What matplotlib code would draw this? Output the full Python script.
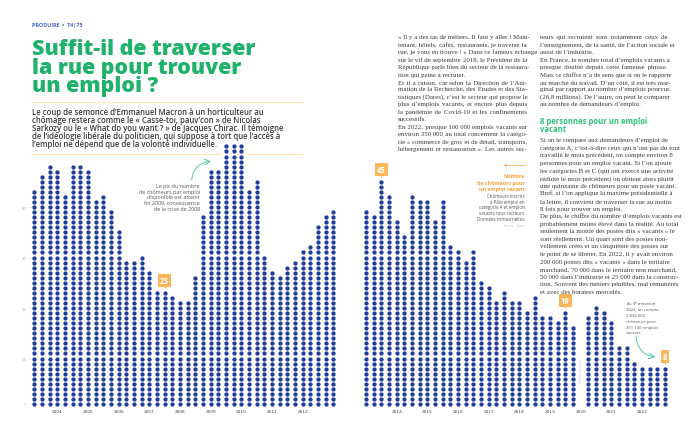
import numpy as np
import matplotlib
matplotlib.use("Agg")
from matplotlib import pyplot as plt

W, H = 700, 439

# chômeurs de catégorie A par emploi vacant, un point = 1 chômeur, données trimestrielles
left_values = [43, 46, 48, 47, 42, 48, 48, 47, 41, 42, 39, 35, 29, 29, 30, 27,
               23, 23, 22, 21, 21, 26, 38, 47, 47, 52, 52, 52, 43, 45, 30, 27,
               26, 28, 29, 31, 32, 36, 38, 39]
right_values = [39, 38, 45, 42, 37, 34, 42, 41, 41, 37, 41, 32, 31, 29, 31, 25,
                24, 21, 23, 21, 21, 19, 22, 18, 18, 17, 19, 16, None, 18, 20, 19,
                17, 12, 12, 9, 8, 8, 8, 8]
left_years = [str(y) for y in range(2004, 2013)]
left_year_cols = [3 + 4 * i for i in range(9)]
right_years = [str(y) for y in range(2014, 2023)]
right_year_cols = [4 + 4 * i for i in range(9)]
y_ticks = [1, 10, 20, 30, 40]
left_callout_cols = [17]
right_callout_cols = [2, 26, 39]

BLUE = '#1f3d9c'
GREEN = '#1fb26b'
ORANGE = '#f8b55a'
ORANGE_TXT = '#f5a53a'
RULE = '#fde2b5'
ARROW = '#4bcf9f'
SANS = 'Open Sans'
SERIF = ['Liberation Serif', 'DejaVu Serif']

title_lines = ["Suffit-il de traverser", "la rue pour trouver", "un emploi ?"]
intro_lines = [
    "Le coup de semonce d’Emmanuel Macron à un horticulteur au",
    "chômage restera comme le « Casse-toi, pauv’con » de Nicolas",
    "Sarkozy ou le « What do you want ? » de Jacques Chirac. Il témoigne",
    "de l’idéologie libérale du politicien, qui suppose à tort que l’accès à",
    "l’emploi ne dépend que de la volonté individuelle.",
]
peak_note = ["Le pic du nombre", "de chômeurs par emploi", "disponible est atteint",
             "fin 2009, conséquence", "de la crise de 2008"]
legend_title = ["Nombre", "de chômeurs pour", "un emploi vacant"]
legend_text = ["Chômeurs inscrits", "à Pôle emploi en", "catégorie A et emplois",
               "vacants tous secteurs.", "Données trimestrielles."]
last_note = [r"Au 4$^{\mathregular{e}}$ trimestre", "2022, on compte", "2\u00a0834\u00a0000",
             "chômeurs pour", "351\u00a0100 emplois", "vacants"]

# (texte, fin de paragraphe)
col1 = [
    ("«\u00a0Il y a des tas de métiers. Il faut y aller\u00a0! Main-", False),
    ("tenant, hôtels, cafés, restaurants, je traverse la", False),
    ("rue, je vous en trouve\u00a0!\u00a0» Dans ce fameux échange", False),
    ("sur le vif de septembre 2018, le Président de la", False),
    ("République parle bien du secteur de la restaura-", False),
    ("tion qui peine à recruter.", True),
    ("Et il a raison, car selon la Direction de l’Ani-", False),
    ("mation de la Recherche, des Études et des Sta-", False),
    ("tistiques (Dares), c’est le secteur qui propose le", False),
    ("plus d’emplois vacants, et encore plus depuis", False),
    ("la pandémie de Covid-19 et les confinements", False),
    ("successifs.", True),
    ("En 2022, presque 100\u00a0000 emplois vacants sur", False),
    ("environ 350\u00a0000 au total concernent la catégo-", False),
    ("rie «\u00a0commerce de gros et de détail, transports,", False),
    ("hébergement et restauration\u00a0». Les autres sec-", False),
]
col2_top = [
    ("teurs qui recrutent sont notamment ceux de", False),
    ("l’enseignement, de la santé, de l’action sociale et", False),
    ("aussi de l’industrie.", True),
    ("En France, le nombre total d’emplois vacants a", False),
    ("presque doublé depuis cette fameuse phrase.", False),
    ("Mais ce chiffre n’a de sens que si on le rapporte", False),
    ("au marché du travail. D’un côté, il est très mar-", False),
    ("ginal par rapport au nombre d’emplois pourvus", False),
    ("(26,8 millions). De l’autre, on peut le comparer", False),
    ("au nombre de demandeurs d’emploi.", True),
]
heading = ["8 personnes pour un emploi", "vacant"]
col2_bottom = [
    ("Si on le compare aux demandeurs d’emploi de", False),
    ("catégorie A, c’est-à-dire ceux qui n’ont pas du tout", False),
    ("travaillé le mois précédent, on compte environ 8", False),
    ("personnes pour un emploi vacant. Si l’on ajoute", False),
    ("les catégories B et C (qui ont exercé une activité", False),
    ("réduite le mois précédent) on obtient alors plutôt", False),
    ("une quinzaine de chômeurs pour un poste vacant.", False),
    ("Bref, si l’on applique la maxime présidentielle à", False),
    ("la lettre, il convient de traverser la rue au moins", False),
    ("8 fois pour trouver un emploi.", True),
    ("De plus, le chiffre du nombre d’emplois vacants est", False),
    ("probablement moins élevé dans la réalité. Au total", False),
    ("seulement la moitié des postes dits «\u00a0vacants\u00a0» le", False),
    ("sont réellement. Un quart sont des postes nou-", False),
    ("vellement créés et un cinquième des postes sur", False),
    ("le point de se libérer. En 2022, il y avait environ", False),
    ("200\u00a0000 postes dits «\u00a0vacants\u00a0» dans le tertiaire", False),
    ("marchand, 70\u00a0000 dans le tertiaire non marchand,", False),
    ("50\u00a0000 dans l’industrie et 25\u00a0000 dans la construc-", False),
    ("tion. Souvent des métiers pénibles, mal rémunérés", False),
    ("et avec des horaires morcelés.", True),
]


def px_axes(x0, x1, ytop, ybot):
    return fig.add_axes([x0 / W, 1 - ybot / H, (x1 - x0) / W, (ybot - ytop) / H])


def dot_columns(ax, values, callouts, year_cols, years):
    xs, ys = [], []
    for k, v in enumerate(values):
        if v is None:
            continue
        xs += [k] * v
        ys += list(range(1, v + 1))
    ax.scatter(xs, ys, s=9.5, color=BLUE, linewidths=0, zorder=2)
    ax.set_xlim(-0.5, len(values) - 0.5)
    ax.set_ylim(0.5, 53)
    for sp in ax.spines.values():
        sp.set_visible(False)
    ax.patch.set_alpha(0)
    ax.set_xticks(year_cols, years)
    ax.tick_params(axis='x', length=0, pad=1.8, labelsize=3.1, labelcolor='#444444')
    for k in callouts:
        v = values[k]
        ax.text(k, v + 2.45, str(v), ha='center', va='center', color='white',
                fontsize=5.6, fontweight='bold', family=SANS, clip_on=False, zorder=4,
                bbox=dict(boxstyle='square,pad=0.28', fc=ORANGE, ec='none'))
        ax.scatter([k], [v + 1.15], marker='v', s=5, color=ORANGE, linewidths=0,
                   zorder=4, clip_on=False)


fig = plt.figure(figsize=(W / 100, H / 100), dpi=100)
fig.patch.set_facecolor('white')

axl = px_axes(30.5, 337.2, 142.4, 407.5)
dot_columns(axl, left_values, left_callout_cols, left_year_cols, left_years)
axl.set_yticks(y_ticks, [str(t) for t in y_ticks])
axl.tick_params(axis='y', length=2, width=0.4, color='#d0d0d0', pad=1,
                labelsize=2.8, labelcolor='#b0b0b0')

axr = px_axes(362.2, 668.8, 142.4, 407.5)
dot_columns(axr, right_values, right_callout_cols, right_year_cols, right_years)
axr.set_yticks([])
axr.text(right_values.index(None), 7.7, 'Pas de données', rotation=90, ha='center',
         va='center', fontsize=2.4, color='#c4c4c4', family=SANS)

# calque texte en coordonnées pixels
tx = fig.add_axes([0, 0, 1, 1])
tx.set_xlim(0, W)
tx.set_ylim(H, 0)
tx.axis('off')

renderer = fig.canvas.get_renderer()


def width_px(s, size, **kw):
    t = tx.text(0, 0, s, fontsize=size, **kw)
    w = t.get_window_extent(renderer).width
    t.remove()
    return w


def fit(s, target, **kw):
    return 10 * target / width_px(s, 10, **kw)


def lines_at(lines, x, y0, step, size, **kw):
    for i, line in enumerate(lines):
        tx.text(x, y0 + i * step, line, fontsize=size, va='baseline', **kw)


def justify(lines, x0, x1, y0, step, size, **kw):
    # une ligne = un seul texte : on élargit les espaces avec des espaces fines
    hair = width_px('a' + '\u200a' * 10 + 'b', size, **kw) - width_px('ab', size, **kw)
    hair /= 10
    for i, (line, last) in enumerate(lines):
        words = line.split(' ')
        if not last and len(words) > 1:
            extra = (x1 - x0) - width_px(line, size, **kw)
            n_hair = max(0, int(round(extra / hair)))
            gaps = len(words) - 1
            out = words[0]
            done = 0
            for g in range(gaps):
                target = int(round(n_hair * (g + 1) / gaps))
                out += ' ' + '\u200a' * (target - done) + words[g + 1]
                done = target
            line = out
        tx.text(x0, y0 + i * step, line, fontsize=size, va='baseline', **kw)


# en-tête et titre
head_kw = dict(family=SANS, fontweight='bold')
tx.text(32, 27.3, "PRODUIRE  •  74|75", fontsize=fit("PRODUIRE  •  74|75", 50, **head_kw),
        color='#4a62c6', va='baseline', **head_kw)
title_kw = dict(family=SANS, fontweight=800)
lines_at(title_lines, 31.5, 55, 18.6, fit(title_lines[0], 224, **title_kw), color=GREEN, **title_kw)
tx.plot([32, 302], [103, 103], color=RULE, lw=0.8)

intro_kw = dict(family=SANS, fontweight=600)
lines_at(intro_lines, 32, 115.3, 7.95, fit(intro_lines[2], 251, **intro_kw),
         color='#3a3a3a', **intro_kw)
tx.plot([32, 220], [155, 155], color=RULE, lw=0.8)
tx.plot([247, 302], [155, 155], color=RULE, lw=0.8)

# note sur le pic
lines_at(peak_note, 200, 188, 5.65, fit(peak_note[1], 61, family=SANS), family=SANS,
         color='#555555', ha='right')
tx.annotate('', xy=(211, 162.3), xytext=(191.7, 181),
            arrowprops=dict(arrowstyle='->', color=ARROW, lw=0.7,
                            connectionstyle='arc3,rad=-0.4', shrinkA=0, shrinkB=0))

# légende
lines_at(legend_title, 525, 178, 6.6, fit(legend_title[1], 48, **head_kw),
         color=ORANGE_TXT, ha='right', **head_kw)
tx.annotate('', xy=(503.5, 166.5), xytext=(525, 166.5),
            arrowprops=dict(arrowstyle='->', color=ORANGE_TXT, lw=0.5,
                            shrinkA=0, shrinkB=0, mutation_scale=4))
gsize = fit(legend_text[2], 47, family=SANS)
lines_at(legend_text, 525, 197.8, 5.8, gsize, family=SANS, color='#555555', ha='right')
tx.text(525, 227, "Source : Dares", fontsize=gsize * 0.7, family=SANS, color='#b5b5b5',
        ha='right', va='baseline')

# note fin 2022
lines_at(last_note, 626, 305.8, 5.7, fit("2022, on compte", 32, family=SANS),
         family=SANS, color='#555555')
tx.annotate('', xy=(655.5, 358), xytext=(636, 337),
            arrowprops=dict(arrowstyle='->', color=ARROW, lw=0.7,
                            connectionstyle='arc3,rad=0.4', shrinkA=0, shrinkB=0))

# colonnes de texte (page de droite)
bsize = fit(col1[1][0], 125, family=SERIF)
body = dict(family=SERIF, color='#3a3a3a')
justify(col1, 397.5, 526.5, 39.1, 7.48, bsize, **body)
justify(col2_top, 539.5, 667, 39.1, 7.48, bsize, **body)
lines_at(heading, 539.5, 123.6, 8.3, fit(heading[0], 106, **head_kw),
         color='#2dbf78', **head_kw)
justify(col2_bottom, 539.5, 667, 142.3, 7.58, bsize, **body)

fig.savefig('out.png', dpi=100, facecolor='white')
